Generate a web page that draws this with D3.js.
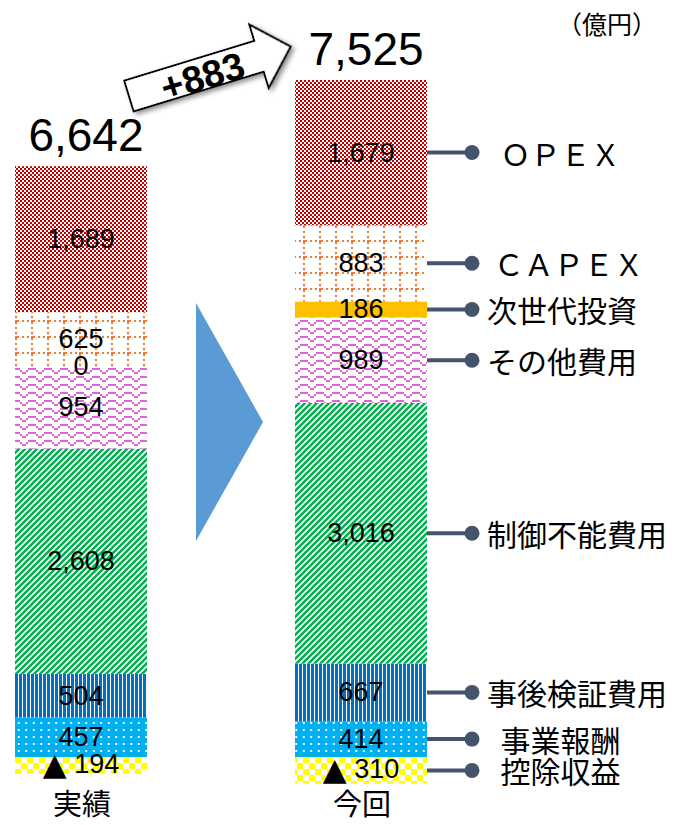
<!DOCTYPE html>
<html lang="ja">
<head>
<meta charset="UTF-8">
<title>chart</title>
<script src="https://cdn.jsdelivr.net/npm/d3@7/dist/d3.min.js"></script>
<style>
    body { margin: 0; background: #fff; }
    svg { display: block; }
    .val { font-family: "Liberation Sans", Arial, sans-serif; font-size: 27px; fill: #000; }
    .total { font-family: "Liberation Sans", Arial, sans-serif; font-size: 46px; fill: #000; }
    .cat { font-family: "Noto Sans CJK JP", sans-serif; font-size: 29px; fill: #000; }
    .legend { font-family: "Noto Sans CJK JP", sans-serif; font-size: 30px; fill: #000; white-space: pre; }
    .unit { font-family: "Noto Sans CJK JP", sans-serif; font-size: 25px; fill: #000; }
    pattern * { shape-rendering: crispEdges; }
</style>
</head>
<body>
<svg width="679" height="825"></svg>
<script>
    // 単位：億円
    var categories = ['実績', '今回'];
    var seriesNames = ['控除収益', '事業報酬', '事後検証費用', '制御不能費用', 'その他費用', '次世代投資', 'CAPEX', 'OPEX'];
    var seriesLabels = ['  控除収益', '  事業報酬', '事後検証費用', '制御不能費用', 'その他費用', '次世代投資', ' ＣＡＰＥＸ', '  ＯＰＥＸ'];
    var deduction = [-194, -310];
    var businessReward = [457, 414];
    var postReview = [504, 667];
    var uncontrollable = [2608, 3016];
    var otherCost = [954, 989];
    var nextGen = [0, 186];
    var capex = [625, 883];
    var opex = [1689, 1679];
    var totals = [6642, 7525];
    var increase = 883;
    var unitLabel = '（億円）';

    var seriesValues = [deduction, businessReward, postReview, uncontrollable, otherCost, nextGen, capex, opex];
    var fills = ['url(#p-yellow)', 'url(#p-dots)', 'url(#p-vline)', 'url(#p-diag)', 'url(#p-zig)', '#ffc000', 'url(#p-grid)', 'url(#p-check)'];

    var svg = d3.select('svg');

    var xScale = d3.scaleBand().domain(categories).range([15, 427]).paddingInner(0.5286);
    var yScale = d3.scaleLinear().domain([0, 7834]).range([757, 80]);

    // ---- patterns ----
    var defs = svg.append('defs');

    var pCheck = defs.append('pattern').attr('id', 'p-check')
        .attr('patternUnits', 'userSpaceOnUse').attr('width', 4).attr('height', 4);
    pCheck.append('rect').attr('width', 4).attr('height', 4).attr('fill', '#fff');
    pCheck.append('rect').attr('width', 2).attr('height', 2).attr('fill', '#c00000');
    pCheck.append('rect').attr('x', 2).attr('y', 2).attr('width', 2).attr('height', 2).attr('fill', '#c00000');

    var pGrid = defs.append('pattern').attr('id', 'p-grid')
        .attr('patternUnits', 'userSpaceOnUse').attr('width', 16).attr('height', 16).attr('x', 15).attr('y', 0);
    pGrid.append('rect').attr('width', 16).attr('height', 16).attr('fill', '#fff');
    [0, 5, 10].forEach(function(o) {
        pGrid.append('rect').attr('x', o + 2).attr('y', 0).attr('width', 2).attr('height', 2).attr('fill', '#ed7d31');
        pGrid.append('rect').attr('x', 0).attr('y', o + 2).attr('width', 2).attr('height', 2).attr('fill', '#ed7d31');
    });
    pGrid.append('rect').attr('width', 2).attr('height', 2).attr('fill', '#ed7d31');

    var pZig = defs.append('pattern').attr('id', 'p-zig')
        .attr('patternUnits', 'userSpaceOnUse').attr('width', 16).attr('height', 8);
    pZig.append('rect').attr('width', 16).attr('height', 8).attr('fill', '#fff');
    // staircase zigzag: [x, y, w]
    [[0, 0, 4], [4, 2, 2], [6, 4, 4], [10, 2, 2], [12, 0, 4]].forEach(function(r) {
        pZig.append('rect').attr('x', r[0]).attr('y', r[1]).attr('width', r[2]).attr('height', 2).attr('fill', '#d966d6');
    });

    var pDiag = defs.append('pattern').attr('id', 'p-diag')
        .attr('patternUnits', 'userSpaceOnUse').attr('width', 6).attr('height', 6);
    pDiag.append('rect').attr('width', 6).attr('height', 6).attr('fill', '#fff');
    pDiag.append('path').attr('d', 'M-1.5,1.5 L1.5,-1.5 M0,6 L6,0 M4.5,7.5 L7.5,4.5')
        .style('shape-rendering', 'auto')
        .attr('stroke', '#00b050').attr('stroke-width', 2.6);

    var pVline = defs.append('pattern').attr('id', 'p-vline')
        .attr('patternUnits', 'userSpaceOnUse').attr('width', 4).attr('height', 4).attr('x', 15);
    pVline.append('rect').attr('width', 4).attr('height', 4).attr('fill', '#fff');
    pVline.append('rect').attr('width', 3).attr('height', 4).attr('fill', '#0070c0');

    var pDots = defs.append('pattern').attr('id', 'p-dots')
        .attr('patternUnits', 'userSpaceOnUse').attr('width', 7.5).attr('height', 7).attr('x', 15).attr('y', 719);
    pDots.append('rect').attr('width', 7.5).attr('height', 7).attr('fill', '#00b0f0');
    pDots.append('rect').attr('x', 3).attr('y', 3).attr('width', 2).attr('height', 2).attr('fill', '#fff');

    var pYellow = defs.append('pattern').attr('id', 'p-yellow')
        .attr('patternUnits', 'userSpaceOnUse').attr('width', 12).attr('height', 12).attr('x', 15).attr('y', 757);
    pYellow.append('rect').attr('width', 12).attr('height', 12).attr('fill', '#fff');
    pYellow.append('rect').attr('width', 6).attr('height', 6).attr('fill', '#ffff00');
    pYellow.append('rect').attr('x', 6).attr('y', 6).attr('width', 6).attr('height', 6).attr('fill', '#ffff00');

    var shadow = defs.append('filter').attr('id', 'shadow')
        .attr('x', '-20%').attr('y', '-40%').attr('width', '140%').attr('height', '180%');
    shadow.append('feDropShadow').attr('dx', 2).attr('dy', 3).attr('stdDeviation', 2.5)
        .attr('flood-color', '#000').attr('flood-opacity', 0.45);

    // ---- stack ----
    var segments = [];
    var tops = [];
    categories.forEach(function(cat, i) {
        var cum = 0;
        seriesNames.forEach(function(name, s) {
            var v = seriesValues[s][i];
            var seg = { cat: cat, idx: i, s: s, name: name, value: v };
            if (v < 0) {
                seg.y0 = v; seg.y1 = 0;
            } else {
                seg.y0 = cum; seg.y1 = cum + v; cum += v;
            }
            segments.push(seg);
        });
        tops.push(cum);
    });

    var barGroup = svg.append('g').classed('bars', true);

    barGroup.selectAll('rect')
        .data(segments)
        .enter()
        .append('rect')
        .attr('x', function(d) { return xScale(d.cat); })
        .attr('width', xScale.bandwidth())
        .attr('y', function(d) { return yScale(d.y1); })
        .attr('height', function(d) { return yScale(d.y0) - yScale(d.y1); })
        .attr('fill', function(d) { return fills[d.s]; });

    var fmt = d3.format(',');

    var labels = barGroup.selectAll('text.val')
        .data(segments)
        .enter()
        .append('text')
        .classed('val', true)
        .attr('x', function(d) { return xScale(d.cat) + xScale.bandwidth() / 2; })
        .attr('y', function(d) { return (yScale(d.y0) + yScale(d.y1)) / 2; })
        .attr('text-anchor', 'middle')
        .attr('dominant-baseline', 'central');

    labels.each(function(d) {
        var t = d3.select(this);
        if (d.value < 0) {
            t.attr('dy', -1);
            t.append('tspan').style('font-family', '"DejaVu Sans", sans-serif').style('font-size', '31px').text('▲');
            t.append('tspan').text(' ' + fmt(-d.value));
        } else {
            t.text(fmt(d.value));
        }
    });

    // totals
    svg.selectAll('text.total')
        .data(categories)
        .enter()
        .append('text')
        .classed('total', true)
        .attr('x', function(d) { return xScale(d) + xScale.bandwidth() / 2 + 5; })
        .attr('y', function(d, i) { return yScale(tops[i]) - 15; })
        .attr('text-anchor', 'middle')
        .text(function(d, i) { return fmt(totals[i]); });

    // category labels
    svg.selectAll('text.cat')
        .data(categories)
        .enter()
        .append('text')
        .classed('cat', true)
        .attr('x', function(d) { return xScale(d) + xScale.bandwidth() / 2 + 1; })
        .attr('y', 815)
        .attr('text-anchor', 'middle')
        .text(function(d) { return d; });

    // leaders for 今回
    var last = categories[categories.length - 1];
    var lastSegs = segments.filter(function(d) { return d.cat === last; });
    var bx = xScale(last) + xScale.bandwidth();

    var leader = svg.append('g').classed('leaders', true)
        .selectAll('g')
        .data(lastSegs)
        .enter()
        .append('g')
        .attr('transform', function(d) {
            return 'translate(' + [bx, (yScale(d.y0) + yScale(d.y1)) / 2] + ')';
        });

    leader.append('line')
        .attr('x1', 0).attr('x2', 44).attr('y1', 0).attr('y2', 0)
        .attr('stroke', '#44546a').attr('stroke-width', 4);
    leader.append('circle')
        .attr('cx', 45).attr('r', 7.5).attr('fill', '#44546a');
    leader.append('text')
        .classed('legend', true)
        .attr('x', 60)
        .attr('dominant-baseline', 'central')
        .text(function(d) { return seriesLabels[d.s]; });

    // unit
    svg.append('text').classed('unit', true)
        .attr('x', 657).attr('y', 34).attr('text-anchor', 'end')
        .text(unitLabel);

    // big triangle between bars
    var triLeft = xScale(categories[0]) + xScale.bandwidth() + 49;
    var triRight = xScale(last) - 32;
    svg.append('path')
        .attr('d', d3.line()([[triLeft, 303], [triRight, 422], [triLeft, 541]]) + 'Z')
        .attr('fill', '#5b9bd5');

    // +883 arrow
    var arrow = svg.append('g')
        .attr('transform', 'translate(129,96) rotate(-17)');
    arrow.append('path')
        .attr('d', 'M0,-16 L136,-16 L136,-33 L169,0 L136,33 L136,16 L0,16 Z')
        .attr('fill', '#fff').attr('stroke', '#000').attr('stroke-width', 2)
        .attr('stroke-linejoin', 'miter')
        .attr('filter', 'url(#shadow)');
    arrow.append('text')
        .attr('x', 76).attr('y', 3)
        .attr('text-anchor', 'middle')
        .attr('dominant-baseline', 'central')
        .style('font-family', '"Liberation Sans", Arial, sans-serif')
        .style('font-weight', 'bold')
        .style('font-size', '38px')
        .text('+' + increase);
</script>
</body>
</html>
